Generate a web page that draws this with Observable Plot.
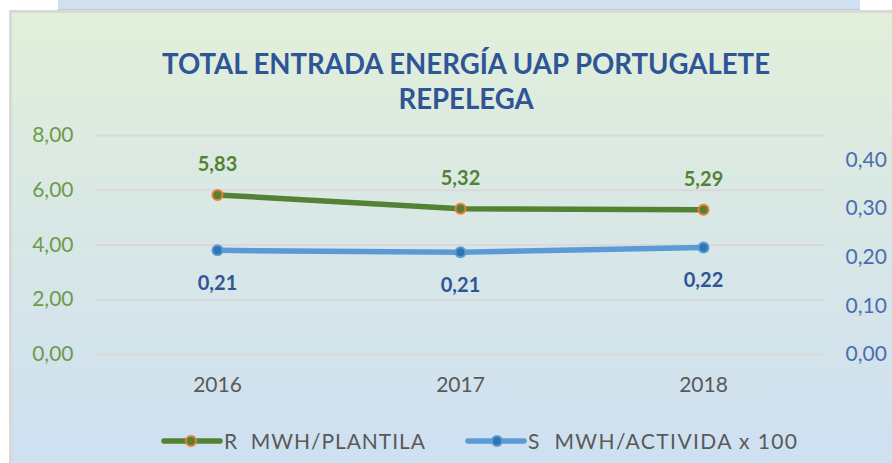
<!DOCTYPE html>
<html><head><meta charset="utf-8">
<script src="https://cdn.jsdelivr.net/npm/d3@7"></script>
<script src="https://cdn.jsdelivr.net/npm/@observablehq/plot@0.6"></script>
<style>
body{margin:0;width:892px;height:463px;overflow:hidden;background:#fff;position:relative;font-family:Lato,sans-serif}
#topbox{position:absolute;left:58px;top:0;width:802px;height:9px;background:#cfe0f1;border-bottom:1px solid #c8c8c8}
#frame{position:absolute;left:9px;top:10px;width:900px;height:470px;border-left:3px solid #d9d9d9;border-top:3px solid #d9d9d9;background:linear-gradient(#e2efda,#cfe0f1 92%)}
#title{position:absolute;left:0;top:45px;width:932px;text-align:center;font-family:Lato,sans-serif;font-weight:bold;font-size:29px;line-height:35px;color:#2F5597;transform-origin:466px 0}
#chart{position:absolute;left:0;top:111px}
#legend{position:absolute;left:0;top:0}
</style></head>
<body>
<div id="topbox"></div>
<div id="frame"></div>
<div id="title"><span id="t1">TOTAL ENTRADA ENERGÍA UAP PORTUGALETE</span><br>REPELEGA</div>
<div id="chart"></div>
<svg id="legend" width="892" height="463" style="pointer-events:none"></svg>
<script>
const years = ["2016", "2017", "2018"];
const plantilla = [5.83, 5.32, 5.29];
const actividad = [0.214, 0.210, 0.220];
const leftTicks = [0, 2, 4, 6, 8];
const rightTicks = [0, 0.1, 0.2, 0.3, 0.4];
const leftMax = 8;
const rightMax = 0.45;
const seriesNames = ["R  MWH/PLANTILA", "S  MWH/ACTIVIDA x 100"];

const toLeft = v => v * leftMax / rightMax;
const fmt = v => d3.format(".2f")(v).replace(".", ",");
const data = years.map((year, i) => ({year, r: plantilla[i], s: actividad[i]}));

// fit the condensed-looking title width
const t1w = document.getElementById("t1").getBoundingClientRect().width;
document.getElementById("title").style.transform = `scaleX(${608 / t1w})`;

const chart = Plot.plot({
  width: 892, height: 290,
  marginLeft: 95, marginRight: 67, marginTop: 24, marginBottom: 47,
  x: {type: "point", domain: years, padding: 0.5},
  y: {domain: [0, leftMax]},
  style: {background: "transparent", fontFamily: "Lato, sans-serif", overflow: "visible"},
  marks: [
    Plot.gridY(leftTicks, {stroke: "#d9d9d9", strokeOpacity: 1, strokeWidth: 2}),
    Plot.axisY(leftTicks, {anchor: "left", tickSize: 0, tickPadding: 22, tickFormat: fmt, fill: "#6c9b4b", fontSize: 21, label: null}),
    Plot.axisY(rightTicks.map(toLeft), {anchor: "right", tickSize: 0, tickPadding: 20, tickFormat: v => fmt(v * rightMax / leftMax), fill: "#4a6db0", fontSize: 21, label: null}),
    Plot.axisX({tickSize: 0, tickPadding: 23, fill: "#595959", fontSize: 21, label: null}),
    Plot.line(data, {x: "year", y: "r", stroke: "#548235", strokeWidth: 5.5}),
    Plot.line(data, {x: "year", y: d => toLeft(d.s), stroke: "#5B9BD5", strokeWidth: 5.5}),
    Plot.dot(data, {x: "year", y: "r", r: 5, fill: "#548235", stroke: "#ED7D31", strokeWidth: 2}),
    Plot.dot(data, {x: "year", y: d => toLeft(d.s), r: 5, fill: "#2E75B6", stroke: "#5B9BD5", strokeWidth: 2}),
    Plot.text(data, {x: "year", y: "r", text: d => fmt(d.r), dy: -30, fill: "#548235", fontWeight: "bold", fontSize: 20}),
    Plot.text(data, {x: "year", y: d => toLeft(d.s), text: d => fmt(d.s), dy: 33, fill: "#2F5597", fontWeight: "bold", fontSize: 20})
  ]
});
document.getElementById("chart").append(chart);

// legend
const lg = d3.select("#legend");
const items = [
  {x0: 164, x1: 220, cx: 191, stroke: "#548235", fill: "#548235", ring: "#ED7D31", tx: 224, tw: 201, name: seriesNames[0]},
  {x0: 468, x1: 524, cx: 497, stroke: "#5B9BD5", fill: "#2E75B6", ring: "#5B9BD5", tx: 528, tw: 269, name: seriesNames[1]}
];
for (const it of items) {
  lg.append("line").attr("x1", it.x0).attr("x2", it.x1).attr("y1", 441).attr("y2", 441)
    .attr("stroke", it.stroke).attr("stroke-width", 5.5).attr("stroke-linecap", "round");
  lg.append("circle").attr("cx", it.cx).attr("cy", 441).attr("r", 5)
    .attr("fill", it.fill).attr("stroke", it.ring).attr("stroke-width", 2);
  lg.append("text").attr("x", it.tx).attr("y", 448.5).attr("fill", "#595959")
    .attr("font-family", "Lato, sans-serif").attr("font-size", 21)
    .attr("textLength", it.tw).attr("lengthAdjust", "spacing")
    .style("white-space", "pre").text(it.name);
}
</script>
</body></html>
